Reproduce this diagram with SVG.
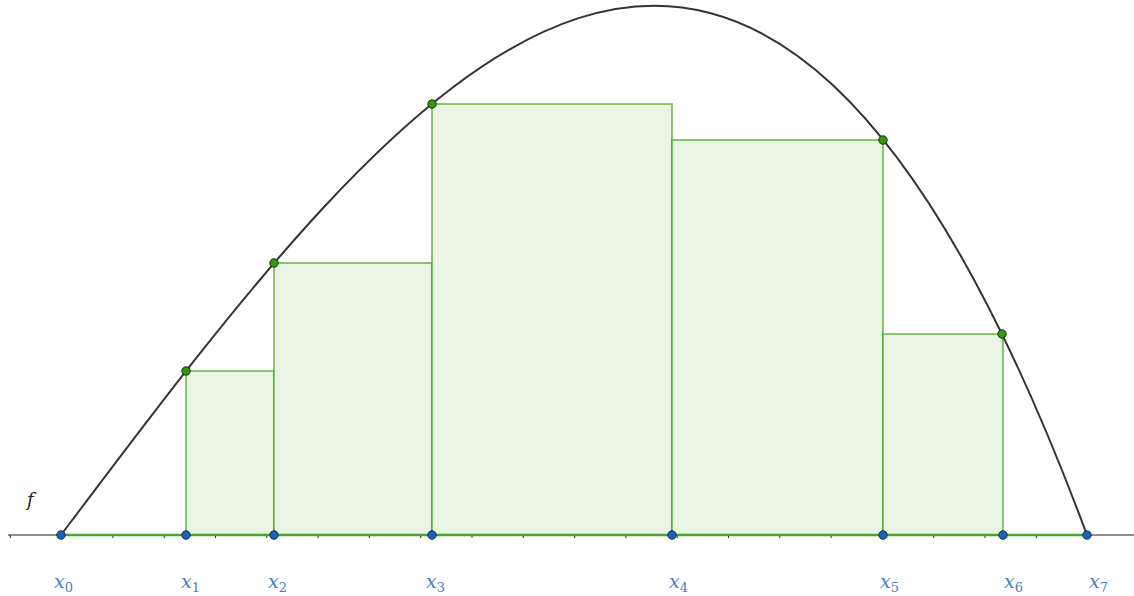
<svg xmlns="http://www.w3.org/2000/svg" width="1134" height="596" viewBox="0 0 1134 596">
<style>
.rect{fill:#e9f4e4;stroke:#339900;stroke-width:2;stroke-opacity:0.55}
.curve{fill:none;stroke:#333333;stroke-width:2}
.axis{stroke:#222;stroke-width:1}
.tick{stroke:#222;stroke-width:1}
.seg{stroke:#4aa52a;stroke-width:2.5}
.bp{fill:#1565c0;stroke:#1a2a3a;stroke-width:1}
.gp{fill:#2f9a0c;stroke:#1a2a1a;stroke-width:1}
text{font-family:"DejaVu Serif","Liberation Serif",serif}
.lbl{font-style:italic;font-size:19px;fill:#3e80cc}
.sub{font-style:normal;font-size:13px;fill:#3e80cc}
.f{font-style:italic;font-size:18px;fill:#222}
</style>
<rect width="1134" height="596" fill="#ffffff"/>
<g id="axis">
<line class="axis" x1="8" y1="535" x2="1134" y2="535"/>
<path class="tick" d="M10.3,535v3M61.6,535v3M112.9,535v3M164.2,535v3M215.5,535v3M266.8,535v3M318.1,535v3M369.4,535v3M420.7,535v3M472,535v3M523.3,535v3M574.6,535v3M625.9,535v3M677.2,535v3M728.5,535v3M779.8,535v3M831.1,535v3M882.4,535v3M933.7,535v3M985,535v3M1036.3,535v3M1087.6,535v3"/>
</g>
<g id="rectangles">
<rect id="r1" class="rect" x="186" y="371" width="88" height="164"/>
<rect id="r2" class="rect" x="274" y="263" width="158" height="272"/>
<rect id="r3" class="rect" x="432" y="104" width="240" height="431"/>
<rect id="r4" class="rect" x="672" y="140" width="211" height="395"/>
<rect id="r5" class="rect" x="883" y="334" width="120" height="201"/>
</g>
<g id="connectors">
<line class="seg" x1="61" y1="535" x2="1087" y2="535"/>
<path id="f-curve" class="curve" d="M61,535 C403,81 745,-385.3 1087,535"/>
</g>
<g id="curve-points">
<circle class="gp" cx="186" cy="371" r="4.2"/>
<circle class="gp" cx="274" cy="263" r="4.2"/>
<circle class="gp" cx="432" cy="104" r="4.2"/>
<circle class="gp" cx="883" cy="140" r="4.2"/>
<circle class="gp" cx="1002" cy="334" r="4.2"/>
</g>
<g id="axis-points">
<circle class="bp" cx="61" cy="535" r="4.2"/>
<circle class="bp" cx="186" cy="535" r="4.2"/>
<circle class="bp" cx="274" cy="535" r="4.2"/>
<circle class="bp" cx="432" cy="535" r="4.2"/>
<circle class="bp" cx="672" cy="535" r="4.2"/>
<circle class="bp" cx="883" cy="535" r="4.2"/>
<circle class="bp" cx="1003" cy="535" r="4.2"/>
<circle class="bp" cx="1087" cy="535" r="4.2"/>
</g>
<g id="labels">
<text class="f" x="27" y="506">f</text>
<text class="lbl" x="54" y="588">x<tspan class="sub" dy="4">0</tspan></text>
<text class="lbl" x="181" y="588">x<tspan class="sub" dy="4">1</tspan></text>
<text class="lbl" x="268" y="588">x<tspan class="sub" dy="4">2</tspan></text>
<text class="lbl" x="426" y="588">x<tspan class="sub" dy="4">3</tspan></text>
<text class="lbl" x="669" y="588">x<tspan class="sub" dy="4">4</tspan></text>
<text class="lbl" x="880" y="588">x<tspan class="sub" dy="4">5</tspan></text>
<text class="lbl" x="1004" y="588">x<tspan class="sub" dy="4">6</tspan></text>
<text class="lbl" x="1089" y="588">x<tspan class="sub" dy="4">7</tspan></text>
</g>
</svg>
